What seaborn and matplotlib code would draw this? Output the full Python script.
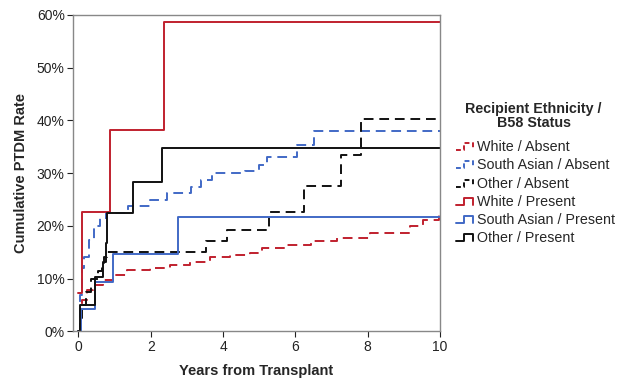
import matplotlib
matplotlib.use("Agg")
import matplotlib.pyplot as plt
from matplotlib.legend_handler import HandlerLine2D
from matplotlib.lines import Line2D
from matplotlib.ticker import PercentFormatter
import seaborn as sns
import pandas as pd

# Cumulative PTDM rate (%), step functions (time in years)
white_absent_t = [0, 0.05, 0.1, 0.25, 0.4, 0.68, 0.96, 1.33, 1.98, 2.53, 3.09, 3.64, 4.2, 4.75, 5.09,
                  5.7, 6.42, 7.15, 8.07, 9.17, 9.53, 9.97, 10]
white_absent_v = [0, 5.0, 6.0, 7.9, 8.8, 9.8, 10.7, 11.6, 12.0, 12.6, 13.2, 14.2, 14.5, 14.8, 15.8,
                  16.4, 17.1, 17.7, 18.7, 19.9, 21.2, 22.5, 22.5]

sa_absent_t = [0, 0.05, 0.1, 0.15, 0.3, 0.44, 0.6, 0.77, 1.38, 1.98, 2.45, 3.1, 3.38, 3.69,
               4.6, 5.0, 5.22, 6.05, 6.51, 10]
sa_absent_v = [0, 7.0, 12.0, 14.2, 17.3, 19.9, 21.5, 22.5, 23.8, 24.9, 26.2, 27.4, 28.7, 30.0,
               30.4, 31.6, 33.1, 35.4, 37.9, 37.9]

other_absent_t = [0, 0.05, 0.1, 0.2, 0.35, 0.55, 0.65, 0.72, 0.8, 3.53, 4.12, 5.27, 6.23, 7.26, 7.82, 10]
other_absent_v = [0, 2.5, 5.0, 7.5, 10.0, 11.5, 13.0, 14.2, 15.1, 17.1, 19.3, 22.7, 27.5, 33.5, 40.3, 40.3]

white_present_t = [0, 0.1, 0.88, 2.36, 10]
white_present_v = [7.2, 22.7, 38.2, 58.7, 58.7]

sa_present_t = [0, 0.08, 0.46, 0.97, 2.76, 10]
sa_present_v = [0, 4.3, 9.3, 14.6, 21.7, 21.7]

other_present_t = [0, 0.05, 0.46, 0.69, 0.75, 0.8, 1.5, 2.3, 10]
other_present_v = [0, 5.0, 10.3, 13.2, 16.8, 22.4, 28.4, 34.8, 34.8]

labels = ["White / Absent", "South Asian / Absent", "Other / Absent",
          "White / Present", "South Asian / Present", "Other / Present"]
times = [white_absent_t, sa_absent_t, other_absent_t,
         white_present_t, sa_present_t, other_present_t]
values = [white_absent_v, sa_absent_v, other_absent_v,
          white_present_v, sa_present_v, other_present_v]

RED = "#C0202E"
BLUE = "#4169C6"
BLACK = "#111111"
colors = [RED, BLUE, BLACK, RED, BLUE, BLACK]
dashed = [True, True, True, False, False, False]


class StepHandler(HandlerLine2D):
    """Legend handle drawn as a small step."""

    def create_artists(self, legend, orig_handle, xdescent, ydescent,
                       width, height, fontsize, trans):
        x0 = -xdescent
        y0 = -ydescent
        xs = [x0, x0 + 0.4 * width, x0 + 0.4 * width, x0 + 0.85 * width, x0 + 0.85 * width]
        ys = [y0 + 0.1 * height, y0 + 0.1 * height, y0 + 0.8 * height,
              y0 + 0.8 * height, y0 + 0.1 * height]
        line = Line2D(xs, ys)
        self.update_prop(line, orig_handle, legend)
        line.set_transform(trans)
        return [line]


sns.set_theme(style="white")
plt.rcParams["font.family"] = ["Liberation Sans", "DejaVu Sans"]

fig = plt.figure(figsize=(6.27, 3.83), dpi=100)
ax = fig.add_axes([0.1164, 0.1345, 0.5854, 0.8271])

handles = []
for lab, t, v, c, d in zip(labels, times, values, colors, dashed):
    df = pd.DataFrame({"t": t, "v": v})
    ls = (0, (5, 3)) if d else "-"
    sns.lineplot(data=df, x="t", y="v", ax=ax, color=c, linestyle=ls,
                 linewidth=1.4, drawstyle="steps-post", estimator=None, sort=False)
    handles.append(Line2D([], [], color=c, linestyle=(0, (2.5, 1.5)) if d else "-",
                          linewidth=1.4, label=lab))

ax.set_xlim(-0.15, 10)
ax.set_ylim(0, 60)
ax.set_xticks([0, 2, 4, 6, 8, 10])
ax.set_yticks(range(0, 61, 10))
ax.yaxis.set_major_formatter(PercentFormatter(decimals=0))
ax.tick_params(axis="both", labelsize=10, colors="#222222", length=4, width=0.8,
               direction="out", bottom=True, left=True, pad=2)
for s in ax.spines.values():
    s.set_color("#888888")
    s.set_linewidth(1.0)

ax.set_xlabel("Years from Transplant", fontsize=10.5, fontweight="bold", labelpad=7)
ax.set_ylabel("Cumulative PTDM Rate", fontsize=10.5, fontweight="bold")
ax.yaxis.set_label_coords(-0.123, 0.5)

# legend title as separate text so the gap to the entries can be set freely
fig.text(0.851, 1 - 116 / 383, "Recipient Ethnicity /\nB58 Status", ha="center", va="center",
         fontsize=10.3, fontweight="bold", linespacing=1.0, multialignment="center")

leg = fig.legend(handles=handles, loc="upper left", bbox_to_anchor=(0.712, 1 - 130 / 383),
                 frameon=False, fontsize=10.3,
                 handlelength=1.4, handletextpad=0.05, labelspacing=0.3,
                 borderpad=0.2, handler_map={Line2D: StepHandler()})

fig.savefig("out.png", dpi=100)
